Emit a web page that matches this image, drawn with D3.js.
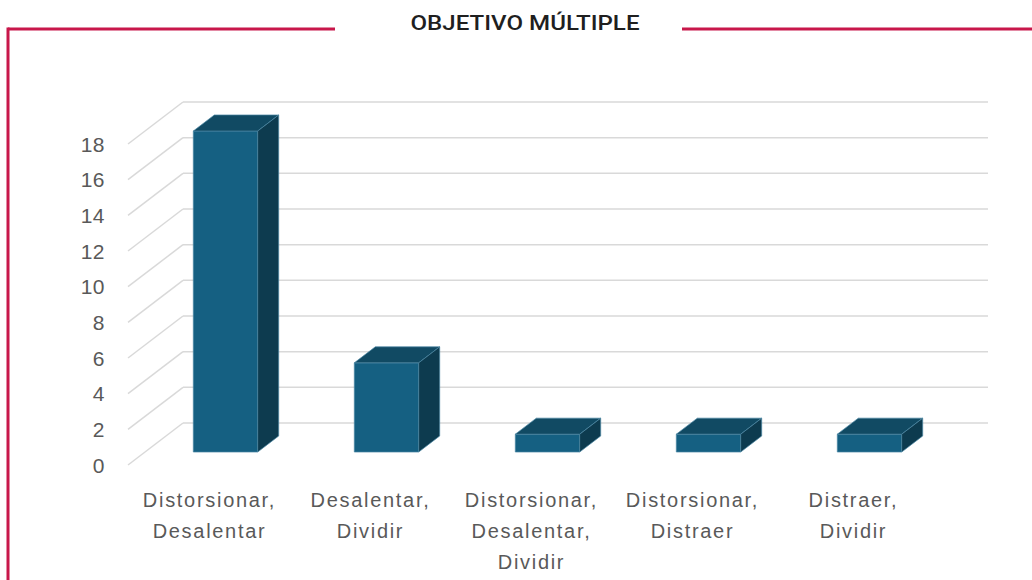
<!DOCTYPE html>
<html>
<head>
<meta charset="utf-8">
<script src="https://cdn.jsdelivr.net/npm/d3@7"></script>
<style>
	body { margin: 0; background: #fff; }
	svg { display: block; }
</style>
</head>
<body>
<div id="chart"></div>
<script>
// chart data
var categories = [
	["Distorsionar,", "Desalentar"],
	["Desalentar,", "Dividir"],
	["Distorsionar,", "Desalentar,", "Dividir"],
	["Distorsionar,", "Distraer"],
	["Distraer,", "Dividir"]
];
var values = [18, 5, 1, 1, 1];
var yTicks = [0, 2, 4, 6, 8, 10, 12, 14, 16, 18];
var title = "OBJETIVO MÚLTIPLE";

var width = 1032, height = 580;
var svg = d3.select("#chart").append("svg").attr("width", width).attr("height", height);

// frame with the title cut in
var red = "#c8174a";
svg.append("line").attr("x1", 8).attr("x2", 335).attr("y1", 29).attr("y2", 29)
	.style("stroke", red).style("stroke-width", 3);
svg.append("line").attr("x1", 682).attr("x2", width).attr("y1", 29).attr("y2", 29)
	.style("stroke", red).style("stroke-width", 3);
svg.append("line").attr("x1", 8).attr("x2", 8).attr("y1", 27.5).attr("y2", height)
	.style("stroke", red).style("stroke-width", 3);

svg.append("text")
	.attr("x", 525)
	.attr("y", 30)
	.attr("text-anchor", "middle")
	.attr("textLength", 229)
	.attr("lengthAdjust", "spacingAndGlyphs")
	.style("font-family", "Roboto, sans-serif")
	.style("font-weight", 500)
	.style("font-size", "21px")
	.style("fill", "#1f1f1f")
	.text(title);

// front plane scales, depth goes back up and to the right
var depthX = 55, depthY = 42;
var x = d3.scaleBand().domain(d3.range(values.length)).range([128, 933]).paddingInner(0.6).paddingOuter(0.3);
var y = d3.scaleLinear().domain([0, 18]).range([465, 144]);

function pt(px, v, d) {
	return [px + d * depthX, y(v) - d * depthY];
}

// gridlines: side wall diagonals + back wall lines
var grid = svg.append("g");
yTicks.forEach(function (t) {
	var a = pt(128, t, 0), b = pt(128, t, 1), c = pt(933, t, 1);
	grid.append("line")
		.attr("x1", a[0]).attr("y1", a[1]).attr("x2", b[0]).attr("y2", b[1])
		.style("stroke", "#d9d9d9").style("stroke-width", 1.5);
	grid.append("line")
		.attr("x1", b[0]).attr("y1", b[1]).attr("x2", c[0]).attr("y2", c[1])
		.style("stroke", "#d9d9d9").style("stroke-width", 1.5);
});

// y tick labels
svg.append("g").selectAll("text")
	.data(yTicks)
	.enter().append("text")
	.attr("x", 105)
	.attr("y", function (d) { return y(d); })
	.attr("dy", "0.36em")
	.attr("text-anchor", "end")
	.style("font-family", "'Liberation Sans', Arial, sans-serif")
	.style("font-size", "21px")
	.style("letter-spacing", "0.5px")
	.style("fill", "#595959")
	.text(function (d) { return d; });

// 3d bars
var d0 = 17 / 55, d1 = 38 / 55;
var bars = svg.append("g");
values.forEach(function (v, i) {
	var x0 = x(i), x1 = x(i) + x.bandwidth();
	var poly = function (pts) { return pts.map(function (p) { return p.join(","); }).join(" "); };
	// front
	bars.append("polygon")
		.attr("points", poly([pt(x0, 0, d0), pt(x1, 0, d0), pt(x1, v, d0), pt(x0, v, d0)]))
		.style("fill", "#156082").style("stroke", "#4a87a3").style("stroke-width", 0.7);
	// top
	bars.append("polygon")
		.attr("points", poly([pt(x0, v, d0), pt(x1, v, d0), pt(x1, v, d1), pt(x0, v, d1)]))
		.style("fill", "#114a63").style("stroke", "#4a87a3").style("stroke-width", 0.7);
	// side
	bars.append("polygon")
		.attr("points", poly([pt(x1, 0, d0), pt(x1, 0, d1), pt(x1, v, d1), pt(x1, v, d0)]))
		.style("fill", "#0d3b4f").style("stroke", "#4a87a3").style("stroke-width", 0.7);
});

// category labels
var labels = svg.append("g");
categories.forEach(function (lines, i) {
	var cx = x(i) + x.bandwidth() / 2 + 1;
	var t = labels.append("text")
		.attr("text-anchor", "middle")
		.style("font-family", "'Liberation Sans', Arial, sans-serif")
		.style("font-size", "20px")
		.style("letter-spacing", "1.7px")
		.style("fill", "#595959");
	lines.forEach(function (s, k) {
		t.append("tspan").attr("x", cx).attr("y", 500 + k * 31).attr("dy", "0.36em").text(s);
	});
});
</script>
</body>
</html>
